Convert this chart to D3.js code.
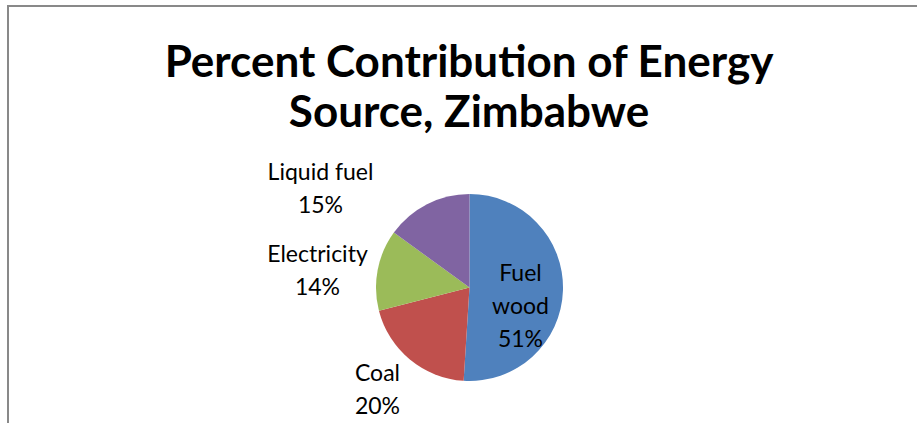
<!DOCTYPE html>
<html>
<head>
    <title>Percent Contribution of Energy Source, Zimbabwe</title>
    <script src="https://d3js.org/d3.v7.min.js"></script>
    <style>
        body { margin: 0; background: #fff; }
        text { font-family: Lato, "Open Sans", sans-serif; fill: #000; }
    </style>
</head>
<body>
    <svg width="917" height="423"></svg>
    <script>
        const sources = ["Fuel wood", "Coal", "Electricity", "Liquid fuel"];
        const percents = [51, 20, 14, 15];
        const colors = ["#4F81BD", "#C0504D", "#9BBB59", "#8064A2"];
        const titleLines = ["Percent Contribution of Energy", "Source, Zimbabwe"];

        const svg = d3.select("svg"),
              width = +svg.attr("width"),
              height = +svg.attr("height");

        // frame, only top and left edges are visible in the crop
        svg.append("path")
           .attr("d", `M8,${height} V6 H${width}`)
           .attr("fill", "none")
           .attr("stroke", "#898989")
           .attr("stroke-width", 2);

        svg.append("g").selectAll("text")
           .data(titleLines)
           .enter().append("text")
           .attr("x", 469)
           .attr("y", (d, i) => 77 + i * 50)
           .attr("text-anchor", "middle")
           .style("font-size", "44px")
           .style("font-weight", "bold")
           .text(d => d);

        const cx = 469.5, cy = 287.5, r = 93.5;
        const data = sources.map((s, i) => ({name: s, value: percents[i], color: colors[i]}));

        const pie = d3.pie().sort(null).value(d => d.value);
        const arc = d3.arc().innerRadius(0).outerRadius(r);
        const arcs = pie(data);

        const g = svg.append("g").attr("transform", `translate(${cx},${cy})`);
        g.selectAll("path")
         .data(arcs)
         .enter().append("path")
         .attr("d", arc)
         .attr("fill", d => d.data.color);

        // label lines and anchor points, relative to pie centre
        const labelLines = {
            "Fuel wood": ["Fuel", "wood"],
            "Coal": ["Coal"],
            "Electricity": ["Electricity"],
            "Liquid fuel": ["Liquid fuel"]
        };
        const labelPos = {
            "Fuel wood": [51, -7],
            "Coal": [-92, 93],
            "Electricity": [-152, -26],
            "Liquid fuel": [-149, -108]
        };

        const labels = g.selectAll(".label")
            .data(arcs)
            .enter().append("text")
            .attr("class", "label")
            .attr("text-anchor", "middle")
            .style("font-size", "23px");

        labels.each(function(d) {
            const lines = labelLines[d.data.name].concat([d.data.value + "%"]);
            const p = labelPos[d.data.name];
            const t = d3.select(this);
            lines.forEach((l, i) => {
                t.append("tspan")
                 .attr("x", p[0])
                 .attr("y", p[1] + i * 33)
                 .text(l);
            });
        });
    </script>
</body>
</html>
